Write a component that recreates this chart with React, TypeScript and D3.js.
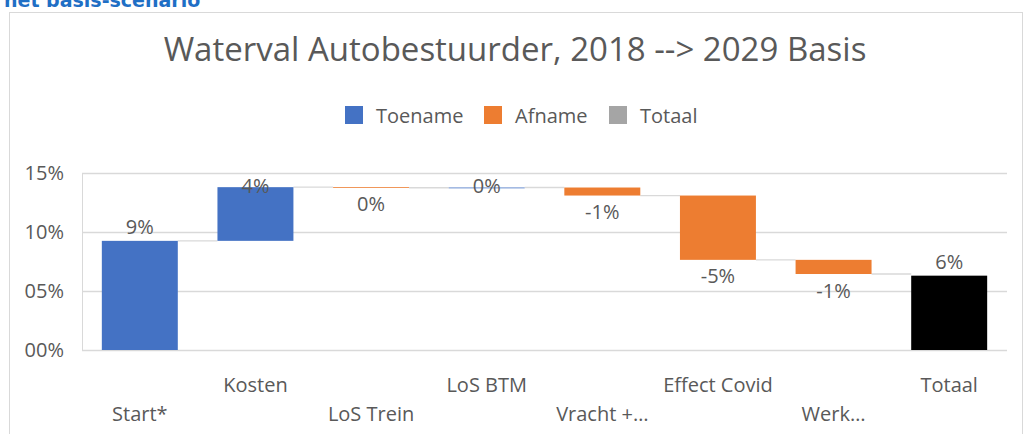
import React from "react";
import * as d3 from "d3";

const categories = ["Start*", "Kosten", "LoS Trein", "LoS BTM", "Vracht +…", "Effect Covid", "Werk…", "Totaal"];
const deltas = [9.25, 4.55, -0.05, 0.02, -0.68, -5.45, -1.2];
const totalValue = 6.3;
const valueLabels = ["9%", "4%", "0%", "0%", "-1%", "-5%", "-1%", "6%"];
const yTicks = [0, 5, 10, 15];
const yTickLabels = ["00%", "05%", "10%", "15%"];
const legendItems = ["Toename", "Afname", "Totaal"];
const legendColors = ["#4472C4", "#ED7D31", "#A5A5A5"];

const W = 1027;
const H = 434;
const plot = { left: 82, right: 1007, top: 173, bottom: 350 };
const FONT = "'Open Sans', 'DejaVu Sans', sans-serif";
const TEXT = "#595959";

export default function App() {
  const x = d3
    .scaleBand<string>()
    .domain(categories)
    .range([plot.left, plot.right])
    .paddingInner(0.343)
    .paddingOuter(0.1715);
  const y = d3.scaleLinear().domain([0, 15]).range([plot.bottom, plot.top]);

  type Bar = { cat: string; start: number; end: number; kind: number; label: string };
  const bars: Bar[] = [];
  let run = 0;
  deltas.forEach((d, i) => {
    const s = run;
    run += d;
    bars.push({ cat: categories[i], start: s, end: run, kind: d >= 0 ? 0 : 1, label: valueLabels[i] });
  });
  bars.push({ cat: categories[7], start: 0, end: totalValue, kind: 2, label: valueLabels[7] });

  const bw = x.bandwidth();
  const colors = ["#4472C4", "#ED7D31", "#000000"];

  const legendX = [345, 484, 609];

  return (
    <svg
      width={W}
      height={H}
      style={{ position: "absolute", left: 0, top: 0, display: "block", background: "#fff" }}
      fontFamily={FONT}
    >
      <rect x={0} y={0} width={W} height={H} fill="#fff" />
      <text x={4} y={7} fill="#1F6FC5" fontFamily="'DejaVu Sans', Verdana, sans-serif" fontWeight="bold" fontSize={19}>
        het basis-scenario
      </text>
      <rect x={9.5} y={12.5} width={1013} height={440} fill="#fff" stroke="#D9D9D9" strokeWidth={1} />

      <text x={515} y={61} textAnchor="middle" fill={TEXT} fontSize={33}>
        Waterval Autobestuurder, 2018 --&gt; 2029 Basis
      </text>

      {legendItems.map((item, i) => (
        <g key={item}>
          <rect x={legendX[i]} y={106} width={18} height={18} fill={legendColors[i]} />
          <text x={legendX[i] + 31} y={123} fill={TEXT} fontSize={20}>
            {item}
          </text>
        </g>
      ))}

      {yTicks.map((t, i) => (
        <g key={t}>
          <line x1={plot.left} x2={plot.right} y1={Math.round(y(t)) + 0.5} y2={Math.round(y(t)) + 0.5} stroke="#D9D9D9" strokeWidth={1.3} />
          <text x={64} y={y(t) + 7} textAnchor="end" fill={TEXT} fontSize={20}>
            {yTickLabels[i]}
          </text>
        </g>
      ))}
      <line x1={plot.left + 0.5} x2={plot.left + 0.5} y1={plot.top} y2={plot.bottom} stroke="#D9D9D9" strokeWidth={1} />

      {bars.slice(0, -1).map((b, i) => {
        const next = bars[i + 1];
        const x1 = (x(b.cat) as number) + bw;
        const x2 = x(next.cat) as number;
        return (
          <line key={"c" + i} x1={x1} x2={x2} y1={y(b.end)} y2={y(b.end)} stroke="#D9D9D9" strokeWidth={1.3} />
        );
      })}

      {bars.map((b, i) => {
        const top = Math.max(b.start, b.end);
        const bot = Math.min(b.start, b.end);
        const y0 = y(top);
        const h = Math.max(y(bot) - y(top), 0.8);
        return <rect key={"b" + i} x={x(b.cat)} y={y0} width={bw} height={h} fill={colors[b.kind]} />;
      })}

      {bars.map((b, i) => {
        const cx = (x(b.cat) as number) + bw / 2;
        const top = Math.max(b.start, b.end);
        const bot = Math.min(b.start, b.end);
        const positive = b.kind !== 1;
        const ly = positive ? Math.max(y(top) - 7, plot.top + 20) : y(bot) + 23.5;
        return (
          <text key={"l" + i} x={cx} y={ly} textAnchor="middle" fill={TEXT} fontSize={20}>
            {b.label}
          </text>
        );
      })}

      {categories.map((c, i) => (
        <text
          key={c}
          x={(x(c) as number) + bw / 2}
          y={i % 2 === 1 ? 392 : 421}
          textAnchor="middle"
          fill={TEXT}
          fontSize={20}
        >
          {c}
        </text>
      ))}
    </svg>
  );
}
